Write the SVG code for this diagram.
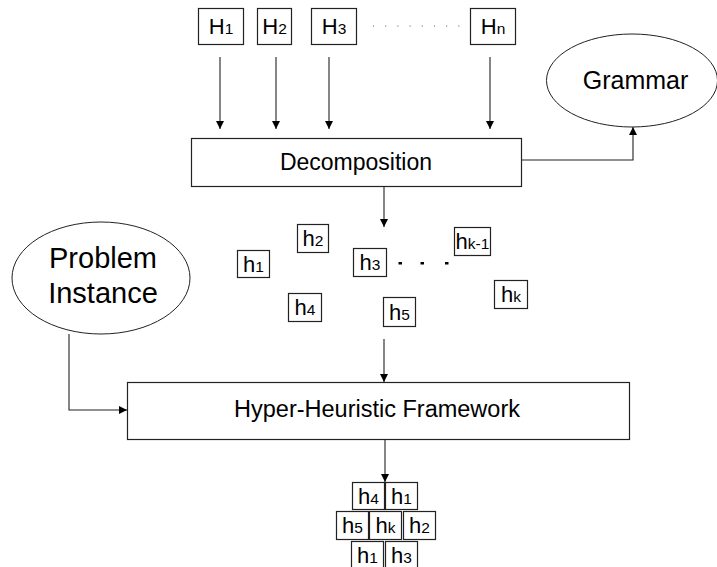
<svg xmlns="http://www.w3.org/2000/svg" width="717" height="567" viewBox="0 0 717 567">
<defs>
<style>
.box{fill:#fff;stroke:#222;stroke-width:1.2}
.ell{fill:#fff;stroke:#222;stroke-width:1}
.t{font-family:"Liberation Sans",Arial,sans-serif;fill:#000;text-anchor:middle}
.H{font-size:22px}
.h{font-size:22px}
.sub{font-size:15.5px}
.conn{fill:none;stroke:#222;stroke-width:1.1}
</style>
<marker id="arr" viewBox="0 0 10 10" refX="10" refY="5" markerWidth="8" markerHeight="8" markerUnits="userSpaceOnUse" orient="auto">
<path d="M0,0 L10,5 L0,10 z" fill="#000"/>
</marker>
</defs>
<rect width="717" height="567" fill="#fff"/>

<g id="connectors">
<line class="conn" x1="220" y1="57" x2="220" y2="129" marker-end="url(#arr)"/>
<line class="conn" x1="276" y1="57" x2="276" y2="129" marker-end="url(#arr)"/>
<line class="conn" x1="329" y1="57" x2="329" y2="129" marker-end="url(#arr)"/>
<line class="conn" x1="490" y1="57" x2="490" y2="129" marker-end="url(#arr)"/>
<polyline class="conn" points="521,160 633,160 633,127" marker-end="url(#arr)"/>
<line class="conn" x1="384" y1="186" x2="384" y2="227" marker-end="url(#arr)"/>
<line class="conn" x1="384" y1="339" x2="384" y2="382" marker-end="url(#arr)"/>
<polyline class="conn" points="69,334 69,410 127,410" marker-end="url(#arr)"/>
<line class="conn" x1="385" y1="439" x2="385" y2="482" marker-end="url(#arr)"/>
</g>

<g id="H1"><rect class="box" x="198.5" y="8.5" width="45" height="36"/><text class="t H" x="221" y="33.5">H<tspan class="sub">1</tspan></text></g>
<g id="H2"><rect class="box" x="257.5" y="8.5" width="34" height="36"/><text class="t H" x="274.5" y="33.5">H<tspan class="sub">2</tspan></text></g>
<g id="H3"><rect class="box" x="311.5" y="8.5" width="45" height="36"/><text class="t H" x="334" y="33.5">H<tspan class="sub">3</tspan></text></g>
<g id="Hdots"><line x1="373" y1="26" x2="460" y2="26" stroke="#555" stroke-width="1" stroke-dasharray="1 11.2"/></g>
<g id="Hn"><rect class="box" x="470.5" y="8.5" width="45" height="36"/><text class="t H" x="493" y="33.5">H<tspan class="sub">n</tspan></text></g>

<g id="grammar"><ellipse class="ell" cx="632" cy="80.5" rx="85.5" ry="46.5"/><text class="t" x="635.5" y="89" font-size="25">Grammar</text></g>

<g id="decomposition"><rect class="box" x="191.5" y="138.5" width="330" height="48"/><text class="t" x="356" y="170" font-size="23">Decomposition</text></g>

<g id="problem"><ellipse class="ell" cx="101" cy="278" rx="89" ry="56"/><text class="t" x="103" y="268" font-size="29">Problem</text><text class="t" x="103" y="303" font-size="29">Instance</text></g>

<g id="h1"><rect class="box" x="237.5" y="250.5" width="32" height="27"/><text class="t h" x="253.5" y="272">h<tspan class="sub">1</tspan></text></g>
<g id="h2"><rect class="box" x="297.5" y="224.5" width="31" height="28"/><text class="t h" x="313" y="246">h<tspan class="sub">2</tspan></text></g>
<g id="h3"><rect class="box" x="353.5" y="248.5" width="33" height="28"/><text class="t h" x="370" y="270">h<tspan class="sub">3</tspan></text></g>
<g id="hdots"><rect x="398.5" y="262" width="3.5" height="2.5" fill="#000"/><rect x="420.5" y="262" width="3.5" height="2.5" fill="#000"/><rect x="445" y="262" width="3.5" height="2.5" fill="#000"/></g>
<g id="hk-1"><rect class="box" x="454.5" y="227.5" width="36" height="28"/><text class="t h" x="472.5" y="249">h<tspan class="sub">k-1</tspan></text></g>
<g id="hk"><rect class="box" x="494.5" y="280.5" width="33" height="28"/><text class="t h" x="511" y="302">h<tspan class="sub">k</tspan></text></g>
<g id="h4"><rect class="box" x="288.5" y="293.5" width="33" height="28"/><text class="t h" x="305" y="315">h<tspan class="sub">4</tspan></text></g>
<g id="h5"><rect class="box" x="383.5" y="297.5" width="32" height="29"/><text class="t h" x="399.5" y="320">h<tspan class="sub">5</tspan></text></g>

<g id="framework"><rect class="box" x="127.5" y="382.5" width="502" height="57"/><text class="t" x="377" y="417" font-size="23.5">Hyper-Heuristic Framework</text></g>

<g id="stack">
<g id="s-h4"><rect class="box" x="352.5" y="482.5" width="32" height="27"/><text class="t h" x="368.5" y="504">h<tspan class="sub">4</tspan></text></g>
<g id="s-h1a"><rect class="box" x="385.5" y="482.5" width="32" height="27"/><text class="t h" x="401.5" y="504">h<tspan class="sub">1</tspan></text></g>
<g id="s-h5"><rect class="box" x="336.5" y="511.5" width="32" height="28"/><text class="t h" x="352.5" y="533">h<tspan class="sub">5</tspan></text></g>
<g id="s-hk"><rect class="box" x="369.5" y="511.5" width="32" height="28"/><text class="t h" x="385.5" y="533">h<tspan class="sub">k</tspan></text></g>
<g id="s-h2"><rect class="box" x="403.5" y="511.5" width="32" height="28"/><text class="t h" x="419.5" y="533">h<tspan class="sub">2</tspan></text></g>
<g id="s-h1b"><rect class="box" x="351.5" y="541.5" width="32" height="30"/><text class="t h" x="367.5" y="563">h<tspan class="sub">1</tspan></text></g>
<g id="s-h3"><rect class="box" x="385.5" y="541.5" width="32" height="30"/><text class="t h" x="401.5" y="563">h<tspan class="sub">3</tspan></text></g>
</g>
</svg>
